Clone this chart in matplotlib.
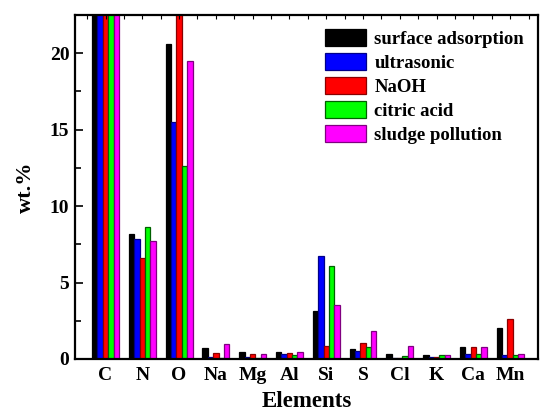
import numpy as np
import matplotlib
matplotlib.use("Agg")
import matplotlib.pyplot as plt
from matplotlib.ticker import MultipleLocator

plt.rcParams['font.family'] = ['Liberation Serif', 'DejaVu Serif']
plt.rcParams['font.weight'] = 'bold'

elements = ['C', 'N', 'O', 'Na', 'Mg', 'Al', 'Si', 'S', 'Cl', 'K', 'Ca', 'Mn']
series = ['surface adsorption', 'ultrasonic', 'NaOH', 'citric acid', 'sludge pollution']

# C (and NaOH for O) run past the top of the axis in the original
surface_adsorption = [50.0, 8.16, 20.6, 0.74, 0.48, 0.48, 3.16, 0.67, 0.33, 0.26, 0.80, 2.00]
ultrasonic = [45.0, 7.83, 15.5, 0.15, 0.10, 0.33, 6.76, 0.54, 0.07, 0.15, 0.33, 0.28]
naoh = [48.0, 6.59, 24.0, 0.37, 0.30, 0.41, 0.87, 1.02, 0.05, 0.10, 0.80, 2.59]
citric_acid = [52.0, 8.64, 12.63, 0.05, 0.05, 0.28, 6.09, 0.78, 0.22, 0.24, 0.30, 0.28]
sludge_pollution = [47.0, 7.74, 19.52, 0.98, 0.33, 0.46, 3.51, 1.83, 0.85, 0.28, 0.76, 0.33]

colors = ['#000000', '#0000ff', '#ff0000', '#00ff00', '#ff00ff']
edges = ['#000000', '#00008a', '#8a0000', '#006000', '#800080']

fig = plt.figure(figsize=(5.41, 4.13), dpi=100)
ax = fig.add_axes([0.1386, 0.1308, 0.856, 0.8329])

x = np.arange(len(elements))
w = 0.146
data = [surface_adsorption, ultrasonic, naoh, citric_acid, sludge_pollution]
for i, vals in enumerate(data):
    ax.bar(x + (i - 2) * w, vals, w, color=colors[i], edgecolor=edges[i],
           linewidth=0.9, label=series[i])

ax.set_xlim(-0.83, 11.76)
ax.set_ylim(0, 22.5)
ax.set_xticks(x)
ax.set_xticklabels(elements, fontsize=14, fontweight='bold')
ax.yaxis.set_major_locator(MultipleLocator(5))
ax.yaxis.set_minor_locator(MultipleLocator(2.5))
ax.tick_params(axis='y', which='major', direction='in', length=6, width=1.2,
               labelsize=14, pad=4)
ax.tick_params(axis='y', which='minor', direction='in', length=4, width=1.2)
ax.tick_params(axis='x', which='both', bottom=False, top=True, direction='in',
               length=3, width=0.8, pad=6)
ax.xaxis.set_minor_locator(MultipleLocator(0.5))
for lab in ax.get_yticklabels():
    lab.set_fontweight('bold')
for s in ax.spines.values():
    s.set_linewidth(1.6)

ax.set_xlabel('Elements', fontsize=16.5, fontweight='bold', labelpad=5)
ax.set_ylabel('wt.%', fontsize=16, fontweight='bold', labelpad=10)

leg = ax.legend(loc='upper right', frameon=False,
                handlelength=2.2, handleheight=1.0, handletextpad=0.45,
                labelspacing=0.28, borderaxespad=0.35,
                prop={'weight': 'bold', 'size': 13.5})

fig.savefig('out.png', dpi=100)
